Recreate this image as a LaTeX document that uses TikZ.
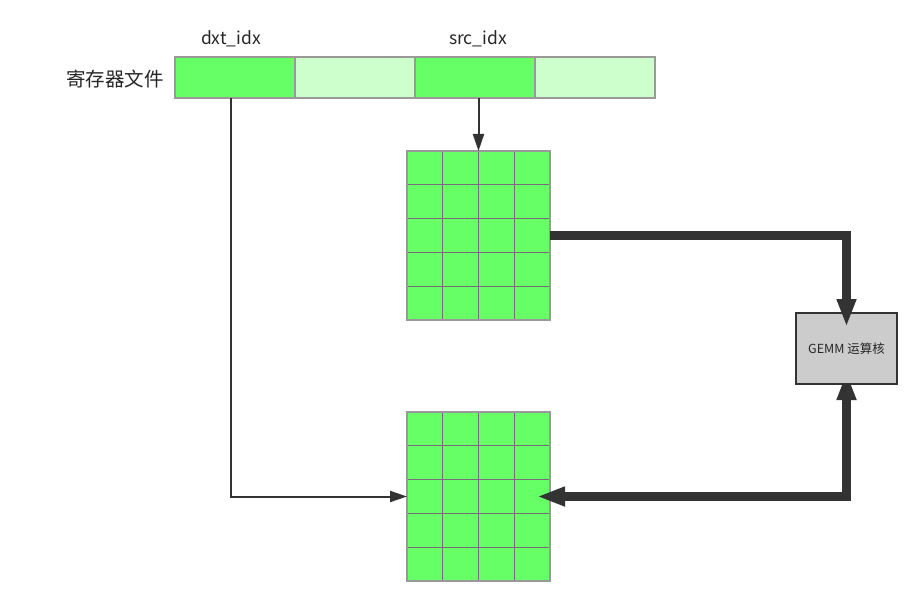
\documentclass[tikz,border=0pt]{standalone}
\usepackage{fontspec}
\setmainfont{Noto Sans CJK SC}
\usetikzlibrary{arrows.meta,calc,backgrounds}
\definecolor{cdark}{HTML}{66FF66}
\definecolor{clight}{HTML}{CCFFCC}
\definecolor{cedge}{HTML}{999999}
\definecolor{cgrid}{HTML}{766C7C}
\definecolor{cline}{HTML}{333333}
\definecolor{cbox}{HTML}{CCCCCC}
\begin{document}
\begin{tikzpicture}[x=1pt,y=-1pt,
  regcell/.style={draw=cedge,line width=1.5pt,minimum width=120pt,minimum height=41pt,inner sep=0pt,outer sep=0pt},
  gridbox/.style={draw=cedge,fill=cdark,line width=1.2pt,minimum width=143pt,minimum height=169pt,inner sep=0pt,outer sep=0pt},
  gridline/.style={draw=cgrid,line width=1.3pt},
  lbl/.style={font=\fontsize{17.5}{20}\selectfont,text=black!85,inner sep=0pt},
  thin/.style={draw=cline,line width=2pt,-{Triangle[length=17pt,width=11pt]}},
  thick/.style={draw=cline,line width=9.5pt,line join=miter},
  gemmbox/.style={draw=cline,fill=cbox,line width=2pt,minimum width=101pt,minimum height=71pt,inner sep=0pt,outer sep=0pt,font=\fontsize{12.5}{15}\selectfont,text=black!85}
]
\useasboundingbox (0,0) rectangle (921,607);
% register file
\node[regcell,fill=cdark]  (r1) at (235,77.5) {};
\node[regcell,fill=clight] (r2) at (355,77.5) {};
\node[regcell,fill=cdark]  (r3) at (475,77.5) {};
\node[regcell,fill=clight] (r4) at (595,77.5) {};
\node[lbl,font=\fontsize{19.5}{22}\selectfont,anchor=east] (rf) at (164,79) {寄存器文件};
\node[lbl] (ldxt) at (231,39) {dxt\_idx};
\node[lbl] (lsrc) at (478,39) {src\_idx};
% grids (on background layer, below connectors)
\begin{pgfonlayer}{background}
\node[gridbox] (g1) at (478.5,235.5) {};
\node[gridbox] (g2) at (478.5,496.5) {};
\foreach \g in {g1,g2}{
  \foreach \i in {1,2,3}{
    \draw[gridline] ($(\g.north west)!\i/4!(\g.north east)$) -- ($(\g.south west)!\i/4!(\g.south east)$);
  }
  \foreach \j in {1,2,3,4}{
    \draw[gridline] ($(\g.north west)!\j/5!(\g.south west)$) -- ($(\g.north east)!\j/5!(\g.south east)$);
  }
  \draw[draw=cedge,line width=1.2pt] (\g.north west) rectangle (\g.south east);
}
\end{pgfonlayer}
% GEMM
\node[gemmbox] (gemm) at (846.5,348.5) {GEMM 运算核};
% connectors
\coordinate (dxtstart) at ([xshift=-4pt]r1.south);
\draw[thin] (dxtstart) |- (g2.west);
\draw[thin] (r3.south -| g1.north) -- (g1.north);
\draw[thick,-{Triangle[length=28pt,width=18pt]},shorten >=-14pt] (g1.east) -| (gemm.north);
\begin{pgfonlayer}{background}
\draw[thick,{Triangle[length=28pt,width=18pt]}-{Triangle[length=28pt,width=18pt]},shorten <=-12pt,shorten >=-13pt] (gemm.south) |- (g2.east);
\end{pgfonlayer}
\end{tikzpicture}
\end{document}
